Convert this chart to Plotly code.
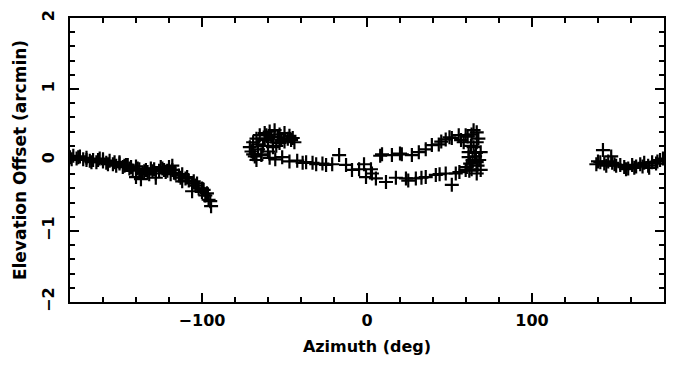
import plotly.graph_objects as go

# Segment 1: azimuth -180 .. -94
az_seg1 = [-180, -178, -176, -174, -172, -170, -168, -166, -164, -162, -160, -158, -156, -154,
           -152, -150, -148, -146, -144, -142, -140, -138, -136, -134, -132, -130, -128, -126,
           -124, -122, -120, -118, -116, -114, -112, -110, -108, -106, -104, -102, -100, -98,
           -96, -94.5, -137, -128, -118, -106, -100, -112, -140, -145, -125, -170, -160, -150,
           -179, -175, -167, -163, -157, -153, -147, -143, -139, -133, -129, -121, -117, -113,
           -109, -105, -103, -99, -97, -95, -119, -123, -131, -135]
el_seg1 = [0.04, 0.06, 0.02, 0.05, 0.01, 0.03, -0.01, 0.00, -0.03, 0.02, -0.02, -0.04, -0.01, -0.06,
           -0.08, -0.05, -0.10, -0.07, -0.12, -0.15, -0.09, -0.13, -0.18, -0.14, -0.20, -0.16, -0.19, -0.15,
           -0.12, -0.17, -0.10, -0.14, -0.19, -0.22, -0.20, -0.26, -0.29, -0.33, -0.36, -0.40, -0.45, -0.50,
           -0.56, -0.65, -0.27, -0.25, -0.08, -0.44, -0.40, -0.30, -0.24, -0.07, -0.10, 0.00, 0.01, -0.03,
           0.01, 0.04, -0.03, 0.00, -0.06, -0.03, -0.08, -0.10, -0.12, -0.17, -0.13, -0.15, -0.18, -0.25,
           -0.24, -0.30, -0.33, -0.42, -0.47, -0.58, -0.20, -0.14, -0.12, -0.16]

# Segment 2: azimuth -72 .. 69 (loop)
az_seg2 = [-70, -71, -69, -67, -65, -62, -59, -56, -53, -50, -48, -46, -44, -60, -57, -63, -66,
           -68, -64, -60, -55, -52, -64, -59, -55.6, -51.4, -47, -42.3, -36.9, -30.8, -24.8, -21.1,
           -16.9, -12.7, -9.1, -4.8, -1.8, 2.4, 3.0,
           9.1, 15.1, 21.1, 27.2, 31.4, 35.6, 39.3, 43.5, 47.7, 51.4, 55.6, 59.8, 63.4,
           -0.6, 5.4, 11.5, 17.5, 23.6, 29.6, 35.6, 41.7, 47.7, 53.8, 51.4, 59.8, 63.4,
           66.5, 66.5, 66.5, 66.5, 68.9, 68.9, 61.6, 61.6, 64.6, 64.6, 58.6, 62.5, 65.5, 67.5, 60.5,
           -61, -58, -54, -50, -47, -66, -69, -62, -57, -53, -67, -45, -39, -33, -27,
           57, 61, 63, 66, 68, 67, 64, 62, 45, 50, 56, 44, 33, 25, 8, 20]
el_seg2 = [0.12, 0.18, 0.25, 0.30, 0.35, 0.38, 0.40, 0.42, 0.36, 0.38, 0.30, 0.28, 0.25, 0.30, 0.25, 0.20, 0.15,
           0.05, 0.08, 0.12, 0.20, 0.28, 0.07, 0.03, 0.01, 0.04, -0.02, -0.01, -0.03, -0.06, -0.07, -0.06,
           0.07, -0.07, -0.14, -0.13, -0.06, -0.13, -0.19,
           0.08, 0.07, 0.08, 0.07, 0.11, 0.15, 0.21, 0.22, 0.29, 0.31, 0.35, 0.35, 0.36,
           -0.24, -0.26, -0.31, -0.25, -0.26, -0.26, -0.24, -0.21, -0.19, -0.19, -0.35, -0.14, -0.13,
           0.39, 0.25, -0.03, -0.19, 0.11, -0.14, 0.11, 0.04, 0.18, 0.42, 0.25, -0.05, 0.05, 0.30, -0.10,
           0.35, 0.33, 0.32, 0.26, 0.34, 0.22, 0.08, 0.28, 0.18, 0.24, 0.00, 0.31, -0.04, -0.04, -0.05,
           0.28, 0.33, 0.20, 0.10, 0.00, -0.08, 0.00, -0.15, 0.26, 0.32, -0.17, -0.20, -0.25, -0.29, 0.06, 0.09]

# Segment 3: azimuth 139 .. 180
az_seg3 = [139, 141.4, 143.8, 146.2, 148.6, 151, 153.5, 155.9, 158.3, 160.7, 163.1, 165.6,
           168, 170.4, 172.8, 175.2, 177.6, 179.4, 143, 148, 140, 145, 150, 157, 162, 167, 171, 176]
el_seg3 = [-0.06, -0.03, -0.05, -0.02, -0.04, -0.08, -0.07, -0.10, -0.12, -0.07, -0.09, -0.06,
           -0.04, -0.08, -0.03, -0.05, 0.00, 0.02, 0.14, 0.05, -0.02, -0.08, -0.06, -0.13, -0.11, -0.09, -0.11, -0.02]

x_ticks = [-100, 0, 100]
y_ticks = [-2, -1, 0, 1, 2]

font_family = "DejaVu Sans"

fig = go.Figure()
for az, el in [(az_seg1, el_seg1), (az_seg2, el_seg2), (az_seg3, el_seg3)]:
    fig.add_trace(go.Scatter(
        x=az, y=el, mode="markers",
        marker=dict(symbol="cross-thin", size=10, color="black",
                    line=dict(width=2.2, color="black")),
        showlegend=False, hoverinfo="skip"))

axis_common = dict(
    showgrid=False, zeroline=False, showline=True, linecolor="black", linewidth=2,
    mirror="ticks", ticks="inside", tickcolor="black", tickwidth=2, ticklen=9,
    tickfont=dict(family=font_family, size=16, color="black", weight="bold"),
)

fig.update_xaxes(
    range=[-180, 180], tickvals=x_ticks, ticktext=["\u2212100", "0", "100"],
    minor=dict(dtick=20, ticks="inside", ticklen=5, tickwidth=2, tickcolor="black"),
    title=dict(text="Azimuth (deg)", font=dict(family=font_family, size=16, color="black", weight="bold"), standoff=12),
    ticklabelstandoff=3,
    **axis_common)
fig.update_yaxes(
    range=[-2, 2], tickvals=y_ticks, ticktext=["\u22122", "\u22121", "0", "1", "2"], tickangle=-90,
    minor=dict(dtick=0.2, ticks="inside", ticklen=5, tickwidth=2, tickcolor="black"),
    title=dict(text="Elevation Offset (arcmin)", font=dict(family=font_family, size=17, color="black", weight="bold"), standoff=8),
    ticklabelstandoff=8,
    **axis_common)

fig.update_layout(
    width=676, height=372,
    margin=dict(l=70, r=10, t=14, b=70),
    paper_bgcolor="white", plot_bgcolor="white",
)

fig.write_html("out.html")
